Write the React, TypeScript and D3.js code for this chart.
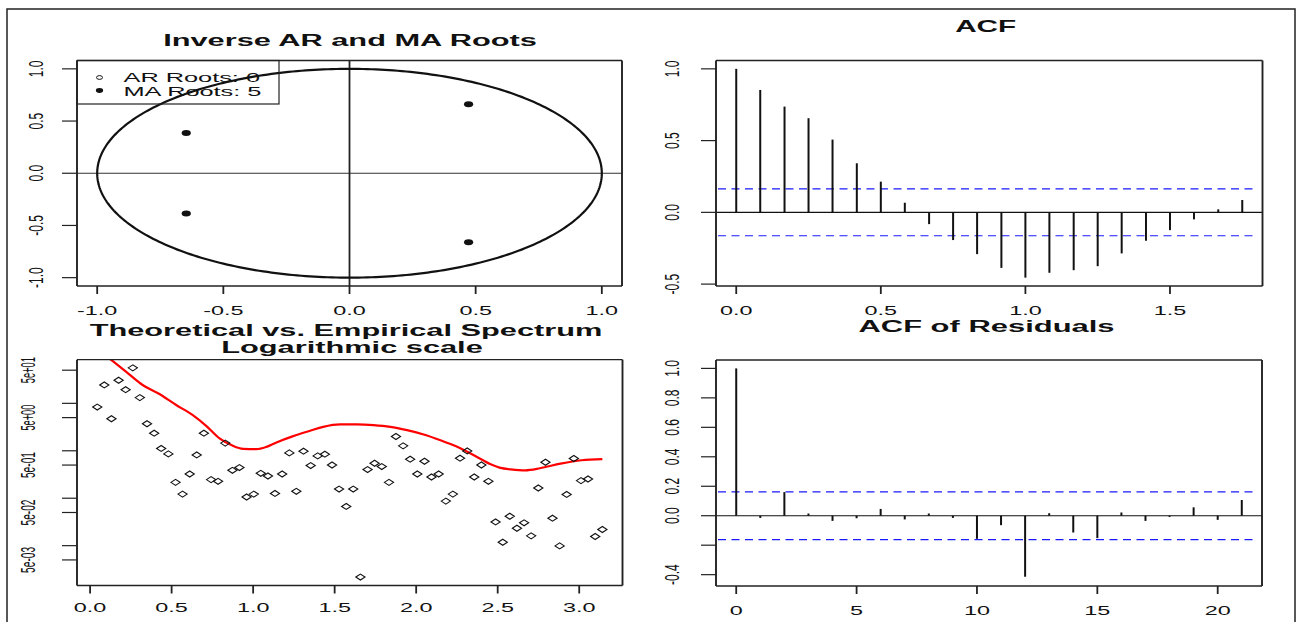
import React from "react";
import * as d3 from "d3";

const FONT = "'Liberation Sans', Arial, Helvetica, sans-serif";
const INK = "#111";

// ---- Inverse AR / MA roots ----
const maRootRe = [0.472, -0.647, -0.647, 0.472];
const maRootIm = [0.66, 0.385, -0.385, -0.66];
const arRootCount = 0;
const maRootCount = 5;
const unitTicks = [-1, -0.5, 0, 0.5, 1];
const unitTickLabels = ["-1.0", "-0.5", "0.0", "0.5", "1.0"];

// ---- Sample ACF (lag in years) ----
const acfLag = [0, 0.083, 0.167, 0.25, 0.333, 0.417, 0.5, 0.583, 0.667, 0.75, 0.833, 0.917, 1.0, 1.083, 1.167, 1.25, 1.333, 1.417, 1.5, 1.583, 1.667, 1.75];
const acfValue = [1, 0.853, 0.737, 0.656, 0.507, 0.342, 0.214, 0.067, -0.082, -0.193, -0.291, -0.387, -0.455, -0.421, -0.403, -0.375, -0.286, -0.198, -0.124, -0.049, 0.021, 0.086];
const acfBand = 0.163;
const acfXTicks = [0, 0.5, 1, 1.5];
const acfXLabels = ["0.0", "0.5", "1.0", "1.5"];
const acfYTicks = [-0.5, 0, 0.5, 1];
const acfYLabels = ["-0.5", "0.0", "0.5", "1.0"];

// ---- Spectrum: periodogram ordinates and fitted ARMA spectrum ----
const specFreq = [0.044, 0.087, 0.131, 0.175, 0.218, 0.262, 0.305, 0.349, 0.393, 0.436,
  0.480, 0.524, 0.567, 0.611, 0.654, 0.698, 0.742, 0.785, 0.829, 0.873,
  0.916, 0.960, 1.004, 1.047, 1.091, 1.134, 1.178, 1.222, 1.265, 1.309,
  1.353, 1.396, 1.440, 1.484, 1.527, 1.571, 1.614, 1.658, 1.702, 1.745,
  1.789, 1.833, 1.876, 1.920, 1.963, 2.007, 2.051, 2.094, 2.138, 2.182,
  2.225, 2.269, 2.313, 2.356, 2.400, 2.443, 2.487, 2.531, 2.574, 2.618,
  2.662, 2.705, 2.749, 2.793, 2.836, 2.880, 2.923, 2.967, 3.011, 3.054,
  3.098, 3.142];
const specValue = [8.36, 24.4, 4.73, 30.7, 19.4, 56, 13.2, 3.71, 2.35, 1.12,
  0.859, 0.216, 0.122, 0.324, 0.818, 2.35, 0.247, 0.227, 1.45, 0.388,
  0.443, 0.106, 0.122, 0.335, 0.294, 0.126, 0.324, 0.902, 0.140, 0.98,
  0.488, 0.780, 0.847, 0.502, 0.156, 0.0671, 0.156, 0.00218, 0.402, 0.546,
  0.465, 0.216, 2.00, 1.27, 0.664, 0.324, 0.602, 0.280, 0.324, 0.0869,
  0.122, 0.697, 0.993, 0.280, 0.502, 0.227, 0.0316, 0.0118, 0.0417, 0.0233,
  0.0303, 0.0161, 0.164, 0.573, 0.0379, 0.00989, 0.120, 0.687, 0.235, 0.254,
  0.0156, 0.0219];
const theoFreq = [0.044, 0.127, 0.220, 0.322, 0.425, 0.528, 0.630, 0.712, 0.794, 0.876,
  0.938, 1.020, 1.082, 1.143, 1.246, 1.349, 1.430, 1.533, 1.636, 1.738,
  1.841, 1.944, 2.046, 2.149, 2.252, 2.354, 2.457, 2.518, 2.580, 2.669,
  2.759, 2.886, 3.014, 3.142];
const theoValue = [141, 83.8, 46.7, 24.4, 15.7, 9.22, 5.66, 3.36, 1.82, 1.27,
  1.10, 1.08, 1.21, 1.50, 2.04, 2.64, 3.20, 3.60, 3.60, 3.48,
  3.20, 2.72, 2.21, 1.67, 1.21, 0.805, 0.520, 0.435, 0.407, 0.388,
  0.428, 0.538, 0.632, 0.664];
const specXTicks = [0, 0.5, 1, 1.5, 2, 2.5, 3];
const specXLabels = ["0.0", "0.5", "1.0", "1.5", "2.0", "2.5", "3.0"];
const specYTicks = [50, 10, 5, 1, 0.5, 0.1, 0.05, 0.01, 0.005];
const specYLabels = ["5e+01", "", "5e+00", "", "5e-01", "", "5e-02", "", "5e-03"];

// ---- Residual ACF ----
const resLag = [0, 1, 2, 3, 4, 5, 6, 7, 8, 9, 10, 11, 12, 13, 14, 15, 16, 17, 18, 19, 20, 21];
const resValue = [1, -0.015, 0.16, 0.015, -0.035, -0.017, 0.046, -0.025, 0.015, -0.015, -0.157, -0.064, -0.414, 0.017, -0.114, -0.152, 0.022, -0.035, -0.008, 0.057, -0.028, 0.107];
const resBand = 0.162;
const resXTicks = [0, 5, 10, 15, 20];
const resXLabels = ["0", "5", "10", "15", "20"];
const resYTicks = [-0.4, -0.2, 0, 0.2, 0.4, 0.6, 0.8, 1];
const resYLabels = ["-0.4", "", "0.0", "0.2", "0.4", "0.6", "0.8", "1.0"];

type Box = { x0: number; x1: number; y0: number; y1: number };
type Scale = (v: number) => number;

const HSTRETCH = 1.8;

function HText(props: { x: number; y: number; text: string; size: number; sx?: number; bold?: boolean; anchor?: string }) {
  const { x, y, text, size, sx = HSTRETCH, bold = false, anchor = "middle" } = props;
  return (
    <text
      transform={`translate(${x},${y}) scale(${sx},1)`}
      fontSize={size}
      fontWeight={bold ? "bold" : "normal"}
      textAnchor={anchor}
      fontFamily={FONT}
      fill={INK}
    >
      {text}
    </text>
  );
}

function PanelBox({ b }: { b: Box }) {
  return (
    <g stroke="#222" fill="none">
      <line x1={b.x0} x2={b.x1} y1={b.y0} y2={b.y0} strokeWidth={1.3} />
      <line x1={b.x0} x2={b.x1} y1={b.y1} y2={b.y1} strokeWidth={1.3} />
      <line x1={b.x0} x2={b.x0} y1={b.y0} y2={b.y1} strokeWidth={1.9} />
      <line x1={b.x1} x2={b.x1} y1={b.y0} y2={b.y1} strokeWidth={1.9} />
    </g>
  );
}

function XAxis(props: { b: Box; scale: Scale; ticks: number[]; labels: string[]; baseline: number }) {
  const { b, scale, ticks, labels, baseline } = props;
  return (
    <g>
      {ticks.map((t, i) => (
        <line key={"t" + i} x1={scale(t)} x2={scale(t)} y1={b.y1} y2={b.y1 + 8} stroke="#222" strokeWidth={1.8} />
      ))}
      {labels.map((l, i) =>
        l ? <HText key={"l" + i} x={scale(ticks[i])} y={baseline} text={l} size={13} /> : null
      )}
    </g>
  );
}

function YAxis(props: { b: Box; scale: Scale; ticks: number[]; labels: string[]; labelRight: number; size?: number; length?: number }) {
  const { b, scale, ticks, labels, labelRight, size = 12, length } = props;
  return (
    <g>
      {ticks.map((t, i) => (
        <line key={"t" + i} x1={b.x0 - 15} x2={b.x0} y1={scale(t)} y2={scale(t)} stroke="#222" strokeWidth={1.2} />
      ))}
      {labels.map((l, i) =>
        l ? (
          <text
            key={"l" + i}
            transform={`translate(${labelRight},${scale(ticks[i])}) scale(1.7,1) rotate(-90)`}
            fontSize={size}
            textAnchor="middle"
            fontFamily={FONT}
            fill={INK}
            textLength={length}
            lengthAdjust={length ? "spacingAndGlyphs" : undefined}
          >
            {l}
          </text>
        ) : null
      )}
    </g>
  );
}

function AcfPanel(props: { b: Box; lags: number[]; values: number[]; band: number; xDom: [number, number]; yDom: [number, number]; xTicks: number[]; xLabels: string[]; yTicks: number[]; yLabels: string[] }) {
  const { b, lags, values, band, xDom, yDom, xTicks, xLabels, yTicks, yLabels } = props;
  const x = d3.scaleLinear().domain(xDom).range([b.x0, b.x1]);
  const y = d3.scaleLinear().domain(yDom).range([b.y1, b.y0]);
  return (
    <g>
      <line x1={b.x0} x2={b.x1} y1={y(0)} y2={y(0)} stroke={INK} strokeWidth={1.1} />
      {[band, -band].map((v, i) => (
        <line key={"ci" + i} x1={b.x0 + 2} x2={b.x1 - 8} y1={y(v)} y2={y(v)} stroke="#1a1aff" strokeWidth={1.2} strokeDasharray="8 5.5" />
      ))}
      {lags.map((l, i) => (
        <line key={"b" + i} x1={x(l)} x2={x(l)} y1={y(0)} y2={y(values[i])} stroke={INK} strokeWidth={2} />
      ))}
      <PanelBox b={b} />
      <XAxis b={b} scale={x} ticks={xTicks} labels={xLabels} baseline={b.y1 + 28.5} />
      <YAxis b={b} scale={y} ticks={yTicks} labels={yLabels} labelRight={679} />
    </g>
  );
}

export default function App() {
  const tl: Box = { x0: 77, x1: 622, y0: 60.5, y1: 286 };
  const tr: Box = { x0: 716, x1: 1262.5, y0: 60.5, y1: 286 };
  const bl: Box = { x0: 77, x1: 622.5, y0: 359.7, y1: 585.5 };
  const br: Box = { x0: 716, x1: 1262, y0: 360, y1: 586 };

  // Roots panel
  const xR = d3.scaleLinear().domain([-1.08, 1.08]).range([tl.x0, tl.x1]);
  const yR = d3.scaleLinear().domain([-1.08, 1.08]).range([tl.y1, tl.y0]);
  const circlePath = d3
    .line<number>()
    .x((a) => xR(Math.cos(a)))
    .y((a) => yR(Math.sin(a)))(d3.range(0, 361).map((d) => (d * Math.PI) / 180));

  // Spectrum panel
  const xS = d3.scaleLinear().domain([-0.0803, 3.2655]).range([bl.x0, bl.x1]);
  const yS = d3.scaleLog().domain([Math.pow(10, -2.84), Math.pow(10, 1.92)]).range([bl.y1, bl.y0]);
  const theoPath = d3
    .line<number>()
    .x((_, i) => xS(theoFreq[i]))
    .y((v) => yS(v))
    .curve(d3.curveMonotoneX)(theoValue);

  return (
    <svg
      width={1306}
      height={622}
      viewBox="0 0 1306 622"
      style={{ position: "absolute", left: 0, top: 0, background: "#fff" }}
    >
      <rect x={0} y={0} width={1306} height={622} fill="#fff" />
      <rect x={7} y={9} width={1288} height={700} fill="none" stroke="#222" strokeWidth={1.5} />

      {/* Inverse AR and MA roots */}
      <HText x={350} y={46} text="Inverse AR and MA Roots" size={17} bold sx={1.81} />
      <line x1={tl.x0} x2={tl.x1} y1={yR(0)} y2={yR(0)} stroke="#333" strokeWidth={1} />
      <line x1={xR(0)} x2={xR(0)} y1={tl.y0} y2={tl.y1} stroke="#222" strokeWidth={1.8} />
      <path d={circlePath ?? ""} fill="none" stroke={INK} strokeWidth={2.2} />
      {maRootRe.map((re, i) => (
        <ellipse key={"ma" + i} cx={xR(re)} cy={yR(maRootIm[i])} rx={4.6} ry={3} fill={INK} />
      ))}
      <rect x={tl.x0} y={tl.y0} width={202} height={43.5} fill="none" stroke="#222" strokeWidth={1.2} />
      <ellipse cx={99.5} cy={77.5} rx={3} ry={1.9} fill="none" stroke={INK} strokeWidth={1} />
      <ellipse cx={99.5} cy={90.5} rx={3.6} ry={2.4} fill={INK} />
      <HText x={123.5} y={82} text={`AR Roots: ${arRootCount}`} size={13} sx={1.95} anchor="start" />
      <HText x={123.5} y={95.5} text={`MA Roots: ${maRootCount}`} size={13} sx={1.95} anchor="start" />
      <PanelBox b={tl} />
      <XAxis b={tl} scale={xR} ticks={unitTicks} labels={unitTickLabels} baseline={315} />
      <YAxis b={tl} scale={yR} ticks={unitTicks} labels={unitTickLabels} labelRight={43} />

      {/* Sample ACF */}
      <HText x={985.7} y={31.7} text="ACF" size={17} bold sx={1.75} />
      <AcfPanel
        b={tr}
        lags={acfLag}
        values={acfValue}
        band={acfBand}
        xDom={[-0.07, 1.82]}
        yDom={[-0.5132, 1.0582]}
        xTicks={acfXTicks}
        xLabels={acfXLabels}
        yTicks={acfYTicks}
        yLabels={acfYLabels}
      />

      {/* Theoretical vs. empirical spectrum */}
      <HText x={346} y={336} text="Theoretical vs. Empirical Spectrum" size={17} bold sx={1.81} />
      <HText x={352} y={353} text="Logarithmic scale" size={17} bold sx={1.81} />
      <defs>
        <clipPath id="specClip">
          <rect x={bl.x0} y={bl.y0} width={bl.x1 - bl.x0} height={bl.y1 - bl.y0} />
        </clipPath>
      </defs>
      <path d={theoPath ?? ""} fill="none" stroke="#ff0000" strokeWidth={2.2} clipPath="url(#specClip)" />
      {specFreq.map((f, i) => {
        const cx = xS(f);
        const cy = yS(specValue[i]);
        return (
          <path
            key={"p" + i}
            d={`M${cx - 4.6},${cy}L${cx},${cy - 3}L${cx + 4.6},${cy}L${cx},${cy + 3}Z`}
            fill="none"
            stroke={INK}
            strokeWidth={1.1}
          />
        );
      })}
      <PanelBox b={bl} />
      <XAxis b={bl} scale={xS} ticks={specXTicks} labels={specXLabels} baseline={612} />
      <YAxis b={bl} scale={yS} ticks={specYTicks} labels={specYLabels} labelRight={35} size={12} length={26} />

      {/* Residual ACF */}
      <HText x={986.5} y={331.5} text="ACF of Residuals" size={17} bold sx={1.82} />
      <AcfPanel
        b={br}
        lags={resLag}
        values={resValue}
        band={resBand}
        xDom={[-0.84, 21.84]}
        yDom={[-0.477, 1.057]}
        xTicks={resXTicks}
        xLabels={resXLabels}
        yTicks={resYTicks}
        yLabels={resYLabels}
      />
    </svg>
  );
}
